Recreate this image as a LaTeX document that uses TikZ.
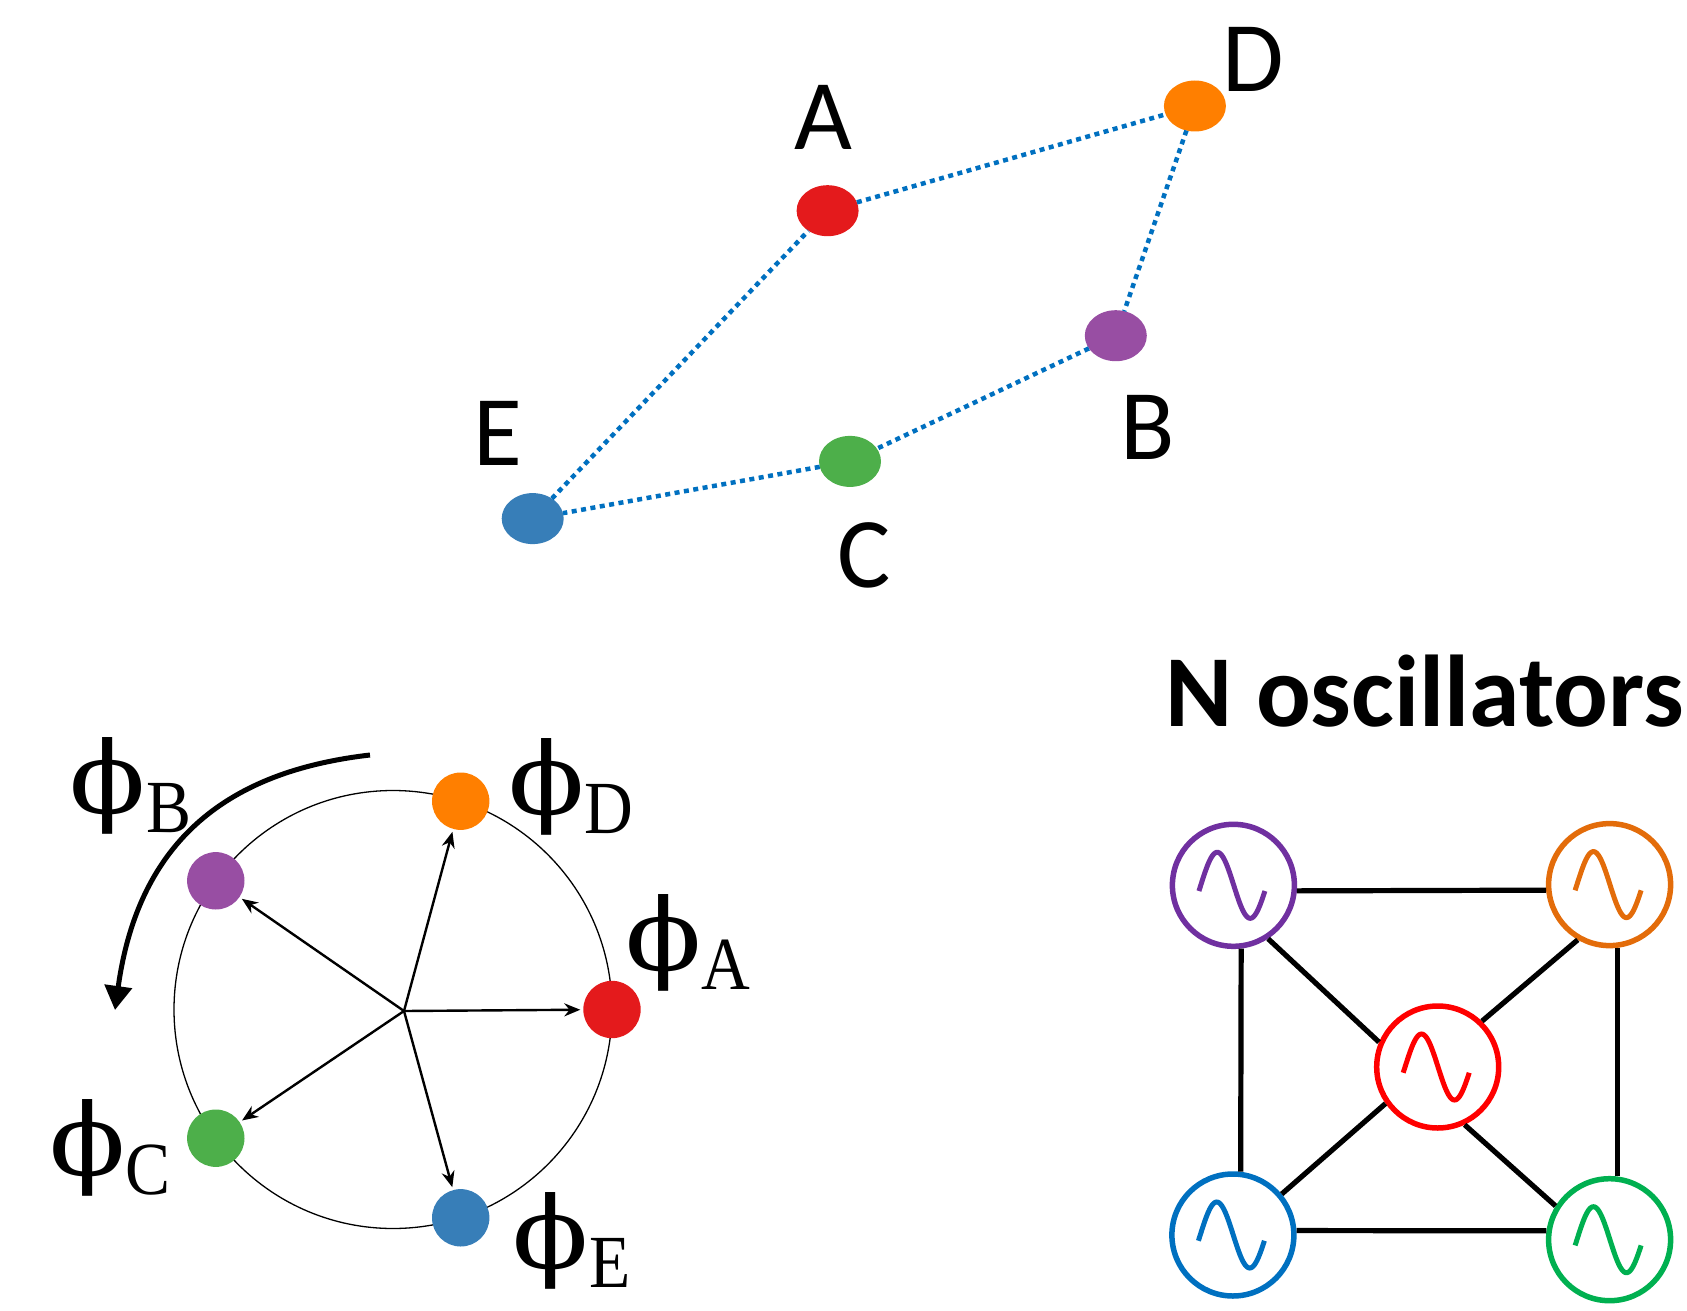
\documentclass[tikz,border=0pt]{standalone}
\usepackage{fontspec}
\setmainfont{Carlito}
\newfontfamily\serf[FakeStretch=0.9]{Liberation Serif}
\newfontfamily\phif[FakeStretch=1.12]{DejaVu Serif}
\usetikzlibrary{shapes.geometric,arrows.meta}
\definecolor{cA}{HTML}{E41A1C}
\definecolor{cD}{HTML}{FF7F00}
\definecolor{cB}{HTML}{984EA3}
\definecolor{cC}{HTML}{4DAF4A}
\definecolor{cE}{HTML}{377EB8}
\definecolor{lnblue}{HTML}{0070C0}
\definecolor{oscP}{HTML}{7030A0}
\definecolor{oscO}{HTML}{E36C0A}
\definecolor{oscR}{HTML}{FF0000}
\definecolor{oscB}{HTML}{0070C0}
\definecolor{oscG}{HTML}{00B050}
\newcommand{\phlab}[1]{{\phif\fontsize{100}{110}\selectfont ϕ}{\serf\fontsize{75}{80}\selectfont\lower19pt\hbox{#1}}}
\begin{document}
\begin{tikzpicture}[x=1pt,y=-1pt,
  topdot/.style={ellipse, minimum width=62pt, minimum height=51pt, inner sep=0pt, outer sep=0pt, fill=#1},
  phdot/.style={circle, minimum size=57.4pt, inner sep=0pt, outer sep=0pt, fill=#1},
  osc/.style={circle, draw=#1, line width=5.5pt, minimum size=122pt, inner sep=0pt},
  dotline/.style={draw=lnblue, line width=4.5pt, dash pattern=on 5pt off 4.5pt},
  lab/.style={font=\fontsize{100}{120}\selectfont, anchor=base, inner sep=0pt},
  phl/.style={anchor=base west, inner sep=0pt},
  vec/.style={line width=2.4pt, -{Stealth[length=16pt,width=13pt]}, shorten >=3pt},
  link/.style={line width=5.2pt},
  wave/.style={line width=5pt, draw=#1}
]
\useasboundingbox (0,0) rectangle (1687,1311);

% ---- top graph ----
\node[topdot=cA] (A) at (827.6,210.7) {};
\node[topdot=cD] (D) at (1194.9,106) {};
\node[topdot=cB] (B) at (1115.8,335.7) {};
\node[topdot=cC] (C) at (850,461.4) {};
\node[topdot=cE] (E) at (532.7,518.6) {};
\draw[dotline] (A) -- (D);
\draw[dotline] (D) -- (B);
\draw[dotline] (B) -- (C);
\draw[dotline] (C) -- (E);
\draw[dotline] (E) -- (A);
\node[lab] (tA) at (823.5,149.3) {A};
\node[lab] (tD) at (1253,91.5) {D};
\node[lab] (tB) at (1147.6,459) {B};
\node[lab] (tC) at (864,587) {C};
\node[lab] (tE) at (498,465) {E};

% ---- phase circle ----
\coordinate (pc) at (393,1009.5);
\draw[line width=1.3pt] (pc) circle[radius=219];
\node[phdot=cA] (pA) at (612,1009.5) {};
\node[phdot=cD] (pD) at (460.7,801.2) {};
\node[phdot=cB] (pB) at (215.8,880.8) {};
\node[phdot=cC] (pC) at (215.8,1138.2) {};
\node[phdot=cE] (pE) at (460.7,1217.8) {};
\coordinate (po) at (404,1011);
\foreach \t in {pA,pD,pB,pC,pE} \draw[vec] (po) -- (\t);

\coordinate (cs) at (370,755);
\coordinate (ct) at (115,1010);
\draw[line width=5pt, -{Triangle[length=24pt,width=27pt]}] (cs) .. controls (240,770) and (140,830) .. (ct);

\node[phl] (lB) at (69.5,813) {\phlab{B}};
\node[phl] (lD) at (508.3,814.8) {\phlab{D}};
\node[phl] (lA) at (625.4,970) {\phlab{A}};
\node[phl] (lC) at (49.2,1175.5) {\phlab{C}};
\node[phl] (lE) at (512.5,1268) {\phlab{E}};

% ---- oscillators ----
\node[font=\bfseries\fontsize{102}{120}\selectfont, anchor=base, inner sep=0pt] (title) at (1424.8,726) {N oscillators};
\node[osc=oscP] (P) at (1233.4,885.3) {};
\node[osc=oscO] (O) at (1609.6,884.6) {};
\node[osc=oscR] (R) at (1437.7,1067) {};
\node[osc=oscB] (Bl) at (1232.9,1235) {};
\node[osc=oscG] (G) at (1609.6,1239.7) {};
\foreach \n/\c in {P/oscP,O/oscO,R/oscR,Bl/oscB,G/oscG}
  \draw[wave=\c, shift={(\n.center)}] plot[domain=-10:350,samples=73,smooth] ({-1.5+(\x-170)/360*66},{-33*sin(\x)});
\draw[link] (P.-5) -- (O.185);
\draw[link] (Bl.4) -- (G.172);
\draw[link] (P.-83) -- (Bl.83);
\draw[link] (O.-83) -- (G.83);
\draw[link] (P.-57) -- (R.157);
\draw[link] (O.240) -- (R.46);
\draw[link] (R.215) -- (Bl.40);
\draw[link] (R.-65.5) -- (G.148.5);
\end{tikzpicture}
\end{document}
